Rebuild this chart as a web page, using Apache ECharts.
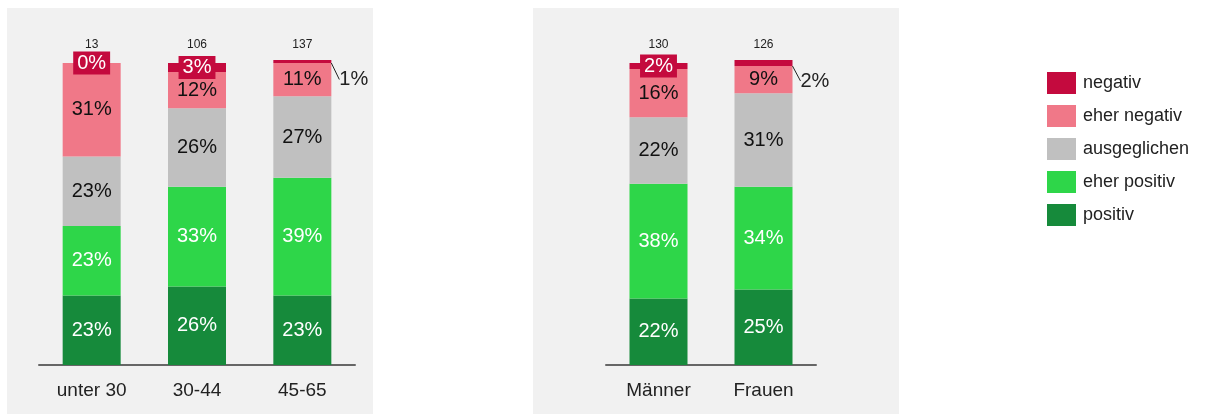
<!DOCTYPE html>
<html>
<head>
<meta charset="utf-8">
<script src="https://cdn.jsdelivr.net/npm/echarts@6/dist/echarts.min.js"></script>
<style>
html, body { margin: 0; padding: 0; background: #fff; }
#chart { width: 1215px; height: 414px; }
</style>
</head>
<body>
<div id="chart"></div>
<script>
// categories and counts (n) shown above the bars
const ageCats = ['unter 30', '30-44', '45-65'];
const ageCounts = ['13', '106', '137'];
const genderCats = ['Männer', 'Frauen'];
const genderCounts = ['130', '126'];

const seriesNames = ['negativ', 'eher negativ', 'ausgeglichen', 'eher positiv', 'positiv'];

// values in percent, per age group
const ageNegativ = [0, 3, 1];
const ageEherNegativ = [31, 12, 11];
const ageAusgeglichen = [23, 26, 27];
const ageEherPositiv = [23, 33, 39];
const agePositiv = [23, 26, 23];

// values in percent, per gender
const genderNegativ = [2, 2];
const genderEherNegativ = [16, 9];
const genderAusgeglichen = [22, 31];
const genderEherPositiv = [38, 34];
const genderPositiv = [22, 25];

// which "negativ" labels are drawn outside with a leader line
const ageCallout = [false, false, true];
const genderCallout = [false, true];

const colors = {
    'negativ': '#c40a3e',
    'eher negativ': '#f07888',
    'ausgeglichen': '#c0c0c0',
    'eher positiv': '#2ed649',
    'positiv': '#168a3b'
};
const labelColors = {
    'negativ': '#ffffff',
    'eher negativ': '#111111',
    'ausgeglichen': '#111111',
    'eher positiv': '#ffffff',
    'positiv': '#ffffff'
};
const FONT = '"Liberation Sans", Arial, sans-serif';

function makeSeries(name, values, idx, stack, callout) {
    const s = {
        name: name,
        type: 'bar',
        stack: stack,
        xAxisIndex: idx,
        yAxisIndex: idx,
        barWidth: 58,
        clip: false,
        itemStyle: { color: colors[name] },
        label: {
            show: true,
            position: 'inside',
            fontSize: 20,
            fontFamily: FONT,
            color: labelColors[name],
            formatter: '{c}%'
        },
        data: values.slice()
    };
    if (name === 'negativ') {
        s.z = 5;
        s.data = values.map(function (v, i) {
            if (callout[i]) {
                return {
                    value: v,
                    label: {
                        position: 'right',
                        distance: 8,
                        color: '#222',
                        fontSize: 20
                    },
                    labelLine: { show: true, lineStyle: { color: '#222', width: 1 } }
                };
            }
            return {
                value: v,
                label: {
                    backgroundColor: colors['negativ'],
                    padding: [2, 4, 1, 4]
                }
            };
        });
        s.labelLayout = function (params) {
            const cb = idx === 0 ? ageCallout : genderCallout;
            if (cb[params.dataIndex]) {
                return { dy: 18 };
            }
            return {};
        };
    }
    return s;
}

var dom = document.getElementById('chart');
var myChart = echarts.init(dom);

var ageData = [ageNegativ, ageEherNegativ, ageAusgeglichen, ageEherPositiv, agePositiv];
var genderData = [genderNegativ, genderEherNegativ, genderAusgeglichen, genderEherPositiv, genderPositiv];

var series = [];
// bottom segment first
for (var k = seriesNames.length - 1; k >= 0; --k) {
    series.push(makeSeries(seriesNames[k], ageData[k], 0, 'age', ageCallout));
}
for (var k = seriesNames.length - 1; k >= 0; --k) {
    series.push(makeSeries(seriesNames[k], genderData[k], 1, 'gender', genderCallout));
}

function bottomAxis(cats, grid) {
    return {
        type: 'category',
        gridIndex: grid,
        data: cats,
        position: 'bottom',
        axisLine: { show: true, lineStyle: { color: '#666', width: 2 } },
        axisTick: { show: false },
        axisLabel: { fontSize: 19, fontFamily: FONT, color: '#222', margin: 16 }
    };
}
function topAxis(counts, grid) {
    return {
        type: 'category',
        gridIndex: grid,
        data: counts,
        position: 'top',
        axisLine: { show: false },
        axisTick: { show: false },
        axisLabel: { fontSize: 12, fontFamily: FONT, color: '#222', margin: 12 }
    };
}

var option = {
    animation: false,
    graphic: [
        { type: 'rect', z: -1, shape: { x: 7, y: 8, width: 366, height: 406 }, style: { fill: '#f1f1f1' } },
        { type: 'rect', z: -1, shape: { x: 533, y: 8, width: 366, height: 406 }, style: { fill: '#f1f1f1' } }
    ],
    legend: {
        orient: 'vertical',
        left: 1047,
        top: 72,
        padding: 0,
        itemWidth: 29,
        itemHeight: 22,
        itemGap: 11,
        icon: 'rect',
        data: seriesNames,
        textStyle: { fontSize: 18, fontFamily: FONT, color: '#222', padding: [0, 0, 0, 2] }
    },
    grid: [
        { left: 39, top: 63, width: 316, height: 302 },
        { left: 606, top: 63, width: 210, height: 302 }
    ],
    xAxis: [
        bottomAxis(ageCats, 0),
        bottomAxis(genderCats, 1),
        topAxis(ageCounts, 0),
        topAxis(genderCounts, 1)
    ],
    yAxis: [
        { type: 'value', gridIndex: 0, min: 0, max: 100, show: false },
        { type: 'value', gridIndex: 1, min: 0, max: 100, show: false }
    ],
    series: series
};

if (option && typeof option === "object") {
    myChart.setOption(option, true);
}
</script>
</body>
</html>
